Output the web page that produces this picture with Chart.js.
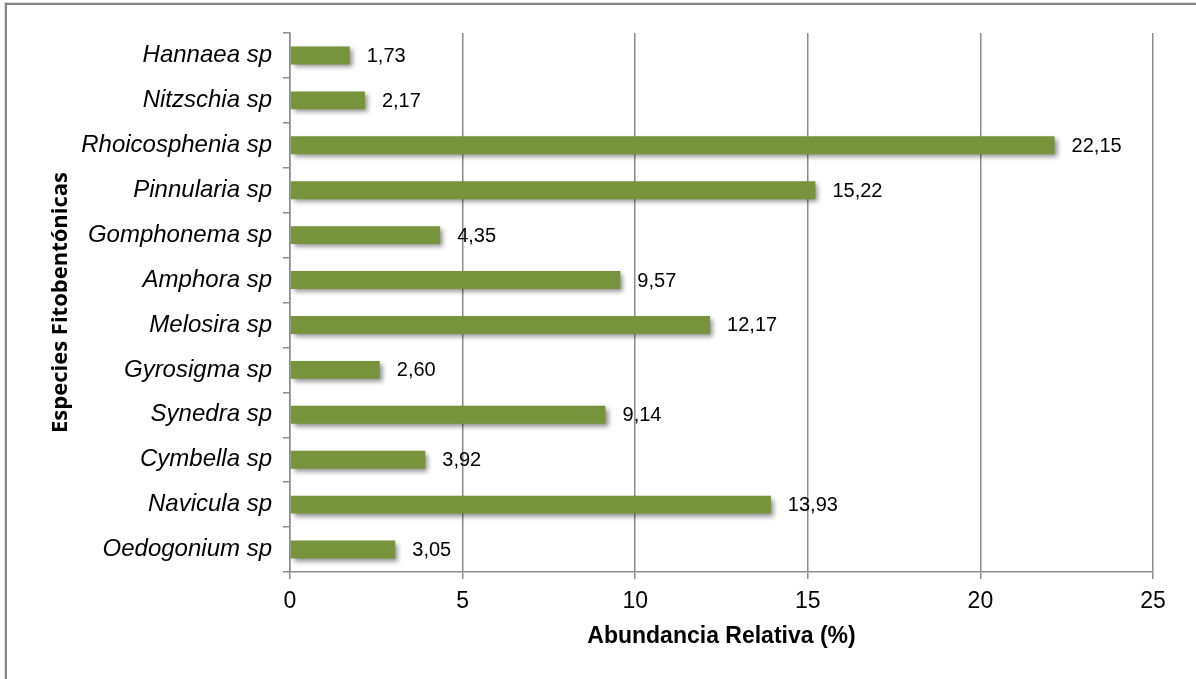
<!DOCTYPE html>
<html>
<head>
<meta charset="utf-8">
<script src="https://cdn.jsdelivr.net/npm/chart.js@4.4.1/dist/chart.umd.min.js"></script>
<style>
  html, body { margin: 0; padding: 0; background: #fff; }
  #wrap { position: relative; width: 1196px; height: 679px; }
</style>
</head>
<body>
<div id="wrap"><canvas id="c" width="1196" height="679"></canvas></div>
<script>
// Species (top to bottom) and their relative abundance in percent
const especies = [
  'Hannaea sp', 'Nitzschia sp', 'Rhoicosphenia sp', 'Pinnularia sp',
  'Gomphonema sp', 'Amphora sp', 'Melosira sp', 'Gyrosigma sp',
  'Synedra sp', 'Cymbella sp', 'Navicula sp', 'Oedogonium sp'
];
const abundancia = [1.73, 2.17, 22.15, 15.22, 4.35, 9.57, 12.17, 2.60, 9.14, 3.92, 13.93, 3.05];
const ejeX = [0, 5, 10, 15, 20, 25];

const GRIS = '#8c8c8c';
const ARIAL = '"Liberation Sans", Arial, sans-serif';

// Outer frame of the chart
const marco = {
  id: 'marco',
  beforeDraw(chart) {
    const ctx = chart.ctx;
    ctx.save();
    ctx.fillStyle = '#fff';
    ctx.fillRect(0, 0, chart.width, chart.height);
    ctx.strokeStyle = '#d9d9d9';
    ctx.lineWidth = 1;
    ctx.strokeRect(4.5, 2.5, 1400, 900);
    ctx.strokeStyle = '#868686';
    ctx.lineWidth = 2;
    ctx.strokeRect(6, 4, 1400, 900);
    ctx.restore();
  }
};

// Soft drop shadow beneath the bars
const sombra = {
  id: 'sombra',
  beforeDatasetDraw(chart) {
    const ctx = chart.ctx;
    ctx.save();
    ctx.shadowColor = 'rgba(0,0,0,0.45)';
    ctx.shadowBlur = 5;
    ctx.shadowOffsetX = 3;
    ctx.shadowOffsetY = 3;
  },
  afterDatasetDraw(chart) {
    chart.ctx.restore();
  }
};

// Value labels written after each bar, with a decimal comma
const etiquetas = {
  id: 'etiquetas',
  afterDatasetsDraw(chart) {
    const ctx = chart.ctx;
    const meta = chart.getDatasetMeta(0);
    ctx.save();
    ctx.font = '20px ' + ARIAL;
    ctx.fillStyle = '#000';
    ctx.textAlign = 'left';
    ctx.textBaseline = 'middle';
    meta.data.forEach((bar, i) => {
      const txt = abundancia[i].toFixed(2).replace('.', ',');
      ctx.fillText(txt, bar.x + 17, bar.y + 1);
    });
    ctx.restore();
  }
};

new Chart(document.getElementById('c'), {
  type: 'bar',
  data: {
    labels: especies,
    datasets: [{
      data: abundancia,
      backgroundColor: '#77933c',
      borderWidth: 0,
      barPercentage: 0.4,
      categoryPercentage: 1.0
    }]
  },
  options: {
    indexAxis: 'y',
    responsive: false,
    animation: false,
    devicePixelRatio: 1,
    layout: { padding: { left: 0, top: 33, right: 43, bottom: 0 } },
    plugins: {
      legend: { display: false },
      tooltip: { enabled: false },
      title: { display: false }
    },
    scales: {
      x: {
        min: 0,
        max: 25,
        afterBuildTicks(scale) { scale.ticks = ejeX.map(v => ({ value: v })); },
        afterFit(scale) { scale.height = 679 - 572; },
        grid: {
          color: GRIS,
          lineWidth: 1.5,
          tickLength: 7,
          drawTicks: true
        },
        border: { display: true, color: GRIS, width: 1.5 },
        ticks: {
          color: '#000',
          padding: 9,
          font: { family: ARIAL, size: 23 }
        },
        title: {
          display: true,
          text: 'Abundancia Relativa (%)',
          color: '#000',
          font: { family: ARIAL, size: 23, weight: 'bold' },
          padding: { top: 0, bottom: 29 }
        }
      },
      y: {
        afterFit(scale) { scale.width = 290; },
        grid: {
          offset: true,
          drawOnChartArea: false,
          drawTicks: true,
          tickLength: 7,
          color: GRIS,
          lineWidth: 1.5
        },
        border: { display: true, color: GRIS, width: 1.5 },
        ticks: {
          color: '#000',
          padding: 11,
          autoSkip: false,
          font: { family: ARIAL, size: 24, style: 'italic' }
        },
        title: {
          display: true,
          text: 'Especies Fitobentónicas',
          color: '#000',
          font: { family: '"Open Sans", sans-serif', size: 22, weight: 'bold' },
          padding: { top: 48, bottom: 0 }
        }
      }
    }
  },
  plugins: [marco, sombra, etiquetas]
});
</script>
</body>
</html>
